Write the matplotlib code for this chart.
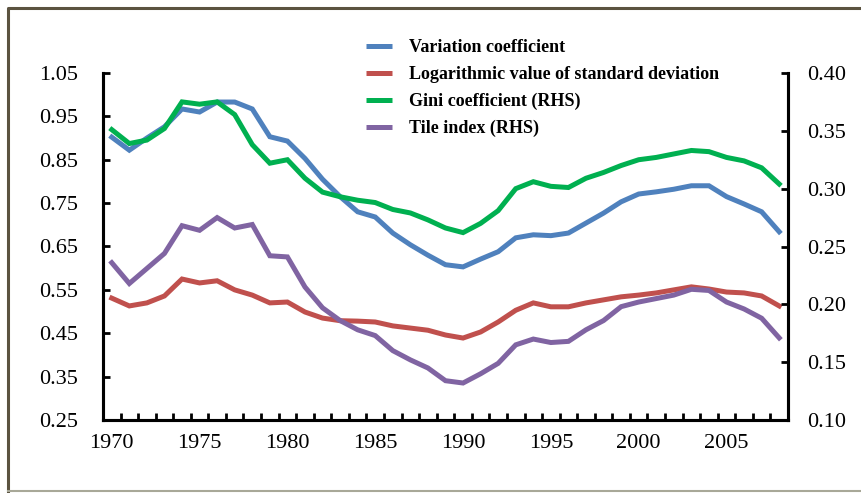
import matplotlib.pyplot as plt
from matplotlib.lines import Line2D

years = list(range(1970, 2009))

# left axis
variation = [0.902, 0.872, 0.900, 0.926, 0.967, 0.960, 0.983, 0.983, 0.967, 0.903,
             0.893, 0.853, 0.805, 0.765, 0.730, 0.718, 0.681, 0.654, 0.630, 0.608,
             0.603, 0.621, 0.638, 0.670, 0.677, 0.675, 0.681, 0.704, 0.727, 0.753,
             0.771, 0.776, 0.782, 0.790, 0.790, 0.765, 0.748, 0.730, 0.684]
log_std = [0.531, 0.513, 0.520, 0.536, 0.575, 0.566, 0.571, 0.550, 0.538, 0.520,
           0.522, 0.499, 0.485, 0.479, 0.478, 0.476, 0.467, 0.462, 0.457, 0.446,
           0.439, 0.453, 0.476, 0.503, 0.520, 0.511, 0.511, 0.520, 0.527, 0.534,
           0.538, 0.543, 0.550, 0.557, 0.552, 0.545, 0.543, 0.536, 0.513]
# right axis
gini = [0.351, 0.339, 0.342, 0.352, 0.375, 0.373, 0.375, 0.364, 0.338, 0.322,
        0.325, 0.309, 0.297, 0.293, 0.290, 0.288, 0.282, 0.279, 0.273, 0.266,
        0.262, 0.270, 0.281, 0.300, 0.306, 0.302, 0.301, 0.309, 0.314, 0.320,
        0.325, 0.327, 0.330, 0.333, 0.332, 0.327, 0.324, 0.318, 0.304]
tile = [0.236, 0.218, 0.231, 0.244, 0.268, 0.264, 0.275, 0.266, 0.269, 0.242,
        0.241, 0.215, 0.197, 0.186, 0.178, 0.173, 0.160, 0.152, 0.145, 0.134,
        0.132, 0.140, 0.149, 0.165, 0.170, 0.167, 0.168, 0.178, 0.186, 0.198,
        0.202, 0.205, 0.208, 0.213, 0.212, 0.202, 0.196, 0.188, 0.171]

labels = ["Variation coefficient", "Logarithmic value of standard deviation",
          "Gini coefficient (RHS)", "Tile index (RHS)"]
colors = ["#4F81BD", "#C0504D", "#00B050", "#8064A2"]

plt.rcParams['font.family'] = ['Liberation Serif', 'DejaVu Serif']

fig = plt.figure(figsize=(8.61, 4.93), dpi=100)
ax = fig.add_axes([0.1196, 0.148, 0.7956, 0.704])
ax2 = ax.twinx()

lw = 3.6
ax.plot(years, variation, color=colors[0], lw=lw, solid_joinstyle='miter')
ax.plot(years, log_std, color=colors[1], lw=lw, solid_joinstyle='miter')
ax2.plot(years, gini, color=colors[2], lw=lw, solid_joinstyle='miter')
ax2.plot(years, tile, color=colors[3], lw=lw, solid_joinstyle='miter')

ax.set_xlim(1969.5, 2008.5)
ax.set_ylim(0.25, 1.05)
ax2.set_ylim(0.10, 0.40)

ax.set_yticks([0.25 + 0.1 * i for i in range(9)])
ax.set_yticklabels(["%.2f" % (0.25 + 0.1 * i) for i in range(9)])
ax2.set_yticks([0.10 + 0.05 * i for i in range(7)])
ax2.set_yticklabels(["%.2f" % (0.10 + 0.05 * i) for i in range(7)])
ax.set_xticks(list(range(1970, 2009, 5)))
ax.set_xticks([y + 0.5 for y in range(1969, 2009)], minor=True)

for a in (ax, ax2):
    a.spines['top'].set_visible(False)
    for s in ('left', 'right', 'bottom'):
        a.spines[s].set_linewidth(2.2)
ax.tick_params(axis='x', which='major', length=0, pad=10, labelsize=16)
ax.tick_params(axis='x', which='minor', direction='in', length=5, width=2)
ax.tick_params(axis='y', direction='in', length=5, width=2, pad=18, labelsize=16)
ax2.tick_params(axis='y', direction='in', length=5, width=2, pad=14, labelsize=16)

handles = [Line2D([], [], color=c, lw=3.6, solid_capstyle='butt') for c in colors]
fig.legend(handles, labels, loc='upper left', bbox_to_anchor=(0.406, 0.954),
           frameon=False, handlelength=1.45, handletextpad=0.95, labelspacing=0.55,
           prop={'weight': 'bold', 'size': 13})

# outer frame
fig.add_artist(Line2D([0.009, 0.009, 1.0], [0.005, 0.984, 0.984],
                      transform=fig.transFigure, color='#5b5340', lw=2.2))
fig.add_artist(Line2D([0.009, 1.0], [0.005, 0.005],
                      transform=fig.transFigure, color='#a8a898', lw=1.5))

fig.savefig("out.png", dpi=100)
